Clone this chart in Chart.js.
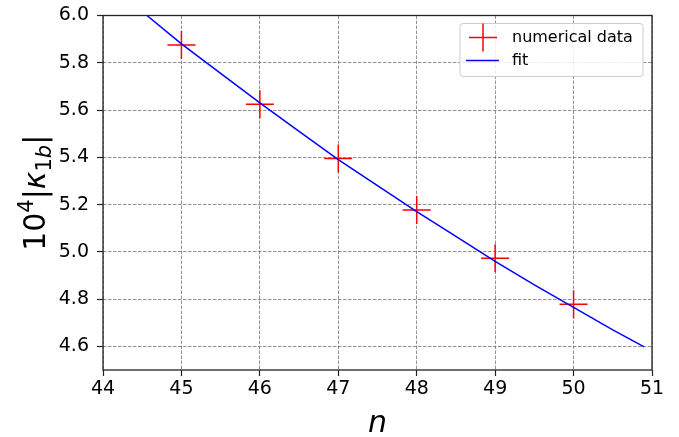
<!DOCTYPE html>
<html>
<head>
<meta charset="utf-8">
<script src="https://cdn.jsdelivr.net/npm/chart.js@4.4.1/dist/chart.umd.min.js"></script>
<style>
html,body{margin:0;padding:0;background:#fff;}
#wrap{width:679px;height:437px;position:relative;}
</style>
</head>
<body>
<div id="wrap"><canvas id="c" width="679" height="437"></canvas></div>
<script>
// Data
const dataN = [45, 46, 47, 48, 49, 50];
const dataK = [5.875, 5.625, 5.395, 5.177, 4.973, 4.778];
const fitN = [44.56, 45, 45.5, 46, 46.5, 47, 47.5, 48, 48.5, 49, 49.5, 50, 50.5, 50.9];
const fitK = [6.0, 5.88, 5.755, 5.63, 5.51, 5.39, 5.28, 5.17, 5.065, 4.96, 4.86, 4.765, 4.67, 4.598];
const xTicks = [44, 45, 46, 47, 48, 49, 50, 51];
const yTicks = [4.6, 4.8, 5.0, 5.2, 5.4, 5.6, 5.8, 6.0];
const legendLabels = ["numerical data", "fit"];
const xTitle = "n";

const FONT = "'DejaVu Sans', sans-serif";

const extras = {
  id: 'extras',
  afterDraw(chart) {
    const ctx = chart.ctx;
    const a = chart.chartArea;
    ctx.save();
    // frame
    ctx.strokeStyle = '#222';
    ctx.lineWidth = 1.3;
    ctx.setLineDash([]);
    ctx.strokeRect(a.left, a.top, a.right - a.left, a.bottom - a.top);

    // legend
    const lx = a.right - 192, ly = a.top + 8, lw = 183, lh = 53;
    ctx.fillStyle = 'rgba(255,255,255,0.85)';
    ctx.strokeStyle = '#cccccc';
    ctx.lineWidth = 1;
    const r = 3;
    ctx.beginPath();
    ctx.moveTo(lx + r, ly);
    ctx.arcTo(lx + lw, ly, lx + lw, ly + lh, r);
    ctx.arcTo(lx + lw, ly + lh, lx, ly + lh, r);
    ctx.arcTo(lx, ly + lh, lx, ly, r);
    ctx.arcTo(lx, ly, lx + lw, ly, r);
    ctx.closePath();
    ctx.fill();
    ctx.stroke();
    // cross symbol
    const cx = lx + 23, cy = ly + 14;
    ctx.strokeStyle = '#ff0000';
    ctx.lineWidth = 1.5;
    ctx.beginPath();
    ctx.moveTo(cx - 14, cy); ctx.lineTo(cx + 14, cy);
    ctx.moveTo(cx, cy - 14); ctx.lineTo(cx, cy + 14);
    ctx.stroke();
    // line symbol
    const fy = ly + 37;
    ctx.strokeStyle = '#0000ff';
    ctx.beginPath();
    ctx.moveTo(lx + 6, fy); ctx.lineTo(lx + 39, fy);
    ctx.stroke();
    ctx.fillStyle = '#000';
    ctx.font = '16px ' + FONT;
    ctx.textBaseline = 'middle';
    ctx.textAlign = 'left';
    ctx.fillText(legendLabels[0], lx + 52, cy);
    ctx.fillText(legendLabels[1], lx + 52, fy);

    // x title
    ctx.font = 'italic 30px ' + FONT;
    ctx.textAlign = 'center';
    ctx.textBaseline = 'alphabetic';
    ctx.fillText(xTitle, (a.left + a.right) / 2, 432);

    // y title (rich text, rotated)
    const parts = [
      {t: '10', f: '30px ' + FONT, dy: 0},
      {t: '4', f: '21px ' + FONT, dy: -12},
      {t: '|', f: '30px ' + FONT, dy: 0},
      {t: 'κ', f: 'italic 30px ' + FONT, dy: 0},
      {t: '1', f: '21px ' + FONT, dy: 6},
      {t: 'b', f: 'italic 21px ' + FONT, dy: 6},
      {t: '|', f: '30px ' + FONT, dy: 0}
    ];
    let total = 0;
    parts.forEach(p => { ctx.font = p.f; p.w = ctx.measureText(p.t).width; total += p.w; });
    ctx.translate(45, (a.top + a.bottom) / 2);
    ctx.rotate(-Math.PI / 2);
    ctx.textAlign = 'left';
    ctx.textBaseline = 'alphabetic';
    let x = -total / 2;
    parts.forEach(p => { ctx.font = p.f; ctx.fillText(p.t, x, p.dy); x += p.w; });
    ctx.restore();
  }
};

const gridCommon = {
  color: 'rgba(100,100,100,0.7)',
  lineWidth: 1,
  tickLength: 6,
  tickColor: '#222',
  tickWidth: 1.2,
  tickBorderDash: []
};
const borderCommon = {display: false, dash: [3.5, 1.5]};

new Chart(document.getElementById('c'), {
  type: 'scatter',
  data: {
    datasets: [
      {
        label: legendLabels[1],
        data: fitN.map((n, i) => ({x: n, y: fitK[i]})),
        showLine: true,
        borderColor: '#0000ff',
        borderWidth: 1.5,
        pointRadius: 0,
        tension: 0,
        fill: false,
        order: 0
      },
      {
        label: legendLabels[0],
        data: dataN.map((n, i) => ({x: n, y: dataK[i]})),
        showLine: false,
        pointStyle: 'cross',
        pointRadius: 14,
        pointHoverRadius: 14,
        borderColor: '#ff0000',
        backgroundColor: '#ff0000',
        pointBorderWidth: 1.5,
        borderWidth: 1.5,
        order: 1
      }
    ]
  },
  options: {
    responsive: false,
    animation: false,
    events: [],
    layout: {padding: {left: 0, top: 14, right: 27, bottom: 0}},
    plugins: {legend: {display: false}, tooltip: {enabled: false}},
    scales: {
      x: {
        type: 'linear',
        min: 44, max: 51,
        afterBuildTicks: s => { s.ticks = xTicks.map(v => ({value: v})); },
        afterFit: s => { s.height = 67; s.paddingLeft = 0; s.paddingRight = 0; },
        ticks: {
          color: '#000',
          font: {family: FONT, size: 19},
          padding: 2,
          maxRotation: 0,
          autoSkip: false,
          callback: v => String(v)
        },
        grid: gridCommon,
        border: borderCommon
      },
      y: {
        type: 'linear',
        min: 4.5, max: 6.0,
        afterBuildTicks: s => { s.ticks = yTicks.map(v => ({value: v})); },
        afterFit: s => { s.width = 103; s.paddingTop = 0; s.paddingBottom = 0; },
        ticks: {
          color: '#000',
          font: {family: FONT, size: 19},
          padding: 8,
          autoSkip: false,
          callback: v => Number(v).toFixed(1)
        },
        grid: gridCommon,
        border: borderCommon
      }
    }
  },
  plugins: [extras]
});
</script>
</body>
</html>
